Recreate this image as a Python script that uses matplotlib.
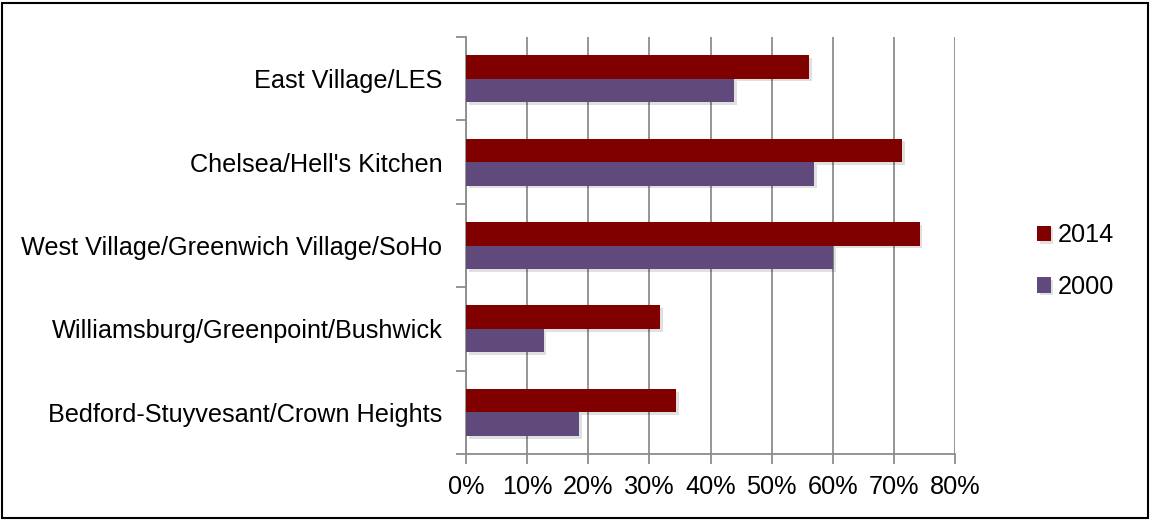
import matplotlib
matplotlib.use("Agg")
import matplotlib.pyplot as plt
import matplotlib.patheffects as pe
from matplotlib.patches import Rectangle
from matplotlib.ticker import FixedLocator, FuncFormatter
import numpy as np

categories = ["East Village/LES", "Chelsea/Hell's Kitchen",
              "West Village/Greenwich Village/SoHo",
              "Williamsburg/Greenpoint/Bushwick",
              "Bedford-Stuyvesant/Crown Heights"]
vals_2014 = [56.1, 71.4, 74.2, 31.7, 34.4]
vals_2000 = [43.8, 56.9, 60.0, 12.7, 18.5]
series_names = ["2014", "2000"]
xticks = [0, 10, 20, 30, 40, 50, 60, 70, 80]

c2014 = "#800000"
c2000 = "#604A7B"
grid_c = "#8c8c8c"

plt.rcParams['font.family'] = ['Liberation Sans', 'DejaVu Sans']
FS = 18.2

W, H = 1151, 521
fig = plt.figure(figsize=(W / 100, H / 100), dpi=100)
ax = fig.add_axes([466 / W, (H - 454) / H, (955 - 466) / W, (454 - 37) / H])

y = np.arange(len(categories))
bh = 0.282
shadow = [pe.SimplePatchShadow(offset=(2, -2), shadow_rgbFace="#000000", alpha=0.12), pe.Normal()]
b1 = ax.barh(y - bh / 2, vals_2014, height=bh, color=c2014, label=series_names[0], zorder=3)
b2 = ax.barh(y + bh / 2, vals_2000, height=bh, color=c2000, label=series_names[1], zorder=3)
for b in list(b1) + list(b2):
    b.set_path_effects(shadow)

ax.set_xlim(0, 80)
ax.set_ylim(len(categories) - 0.5, -0.5)
ax.xaxis.set_major_locator(FixedLocator(xticks))
ax.xaxis.set_major_formatter(FuncFormatter(lambda v, p: f"{int(v)}%"))
ax.grid(axis='x', color=grid_c, linewidth=1.3, zorder=0)
ax.set_axisbelow(True)

ax.set_yticks(y)
ax.set_yticklabels(categories)
ax.yaxis.set_minor_locator(FixedLocator(np.arange(-0.5, len(categories), 1.0)))
ax.tick_params(axis='y', which='major', length=0, pad=17, labelsize=FS)
ax.tick_params(axis='y', which='minor', length=7, width=1.3, color=grid_c)
ax.tick_params(axis='x', which='major', length=7, width=1.3, color=grid_c, pad=8, labelsize=FS)

for s in ['top', 'right']:
    ax.spines[s].set_visible(False)
for s in ['left', 'bottom']:
    ax.spines[s].set_color(grid_c)
    ax.spines[s].set_linewidth(1.3)

leg = fig.legend(handles=[b1, b2], labels=series_names, loc='center left',
                 bbox_to_anchor=(1014 / W, 1 - 261 / H), frameon=False,
                 fontsize=FS, handlelength=0.55, handleheight=0.55,
                 handletextpad=0.3, labelspacing=1.1)

fig.add_artist(Rectangle((2 / W, 3 / H), (W - 5) / W, (H - 6) / H,
                         transform=fig.transFigure, fill=False,
                         edgecolor="black", linewidth=1.5))

fig.savefig("out.png", dpi=100)
